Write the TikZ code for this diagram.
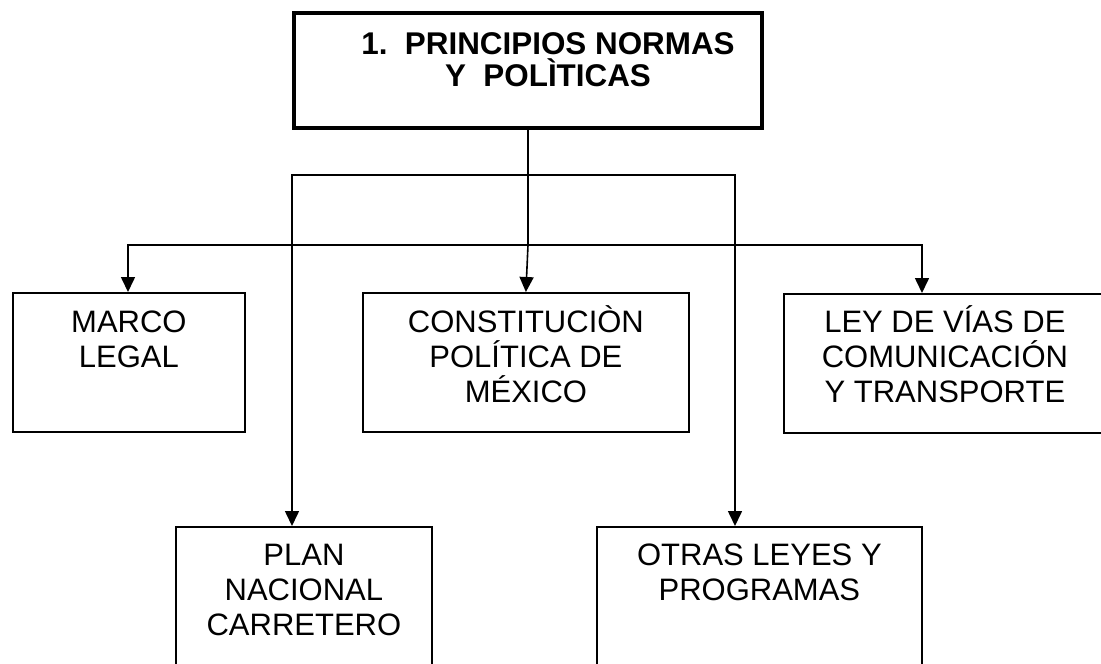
\documentclass[tikz,border=0pt]{standalone}
\usepackage{fontspec}
\setmainfont{Liberation Sans}
\usetikzlibrary{arrows.meta}

\newcommand{\tope}{\rule{0pt}{28pt}}

\tikzset{
  caja/.style={draw,rectangle,line width=1.8pt,anchor=north west,inner sep=0pt},
  texto/.style={font=\fontsize{31}{35}\selectfont,align=center,anchor=north,inner sep=0pt},
  titulo/.style={font=\bfseries\fontsize{31.4}{32}\selectfont,align=center,anchor=north,inner sep=0pt},
  linea/.style={line width=1.6pt},
  flecha/.style={line width=1.6pt,-{Triangle[width=14pt,length=15pt]}}
}

\begin{document}
\begin{tikzpicture}[x=1pt,y=-1pt]
  \useasboundingbox (0,0) rectangle (1101,664);
  \clip (0,0) rectangle (1101,664);

  % cajas
  \node[caja,line width=4pt,minimum width=468pt,minimum height=115pt](principios) at (292,11){};
  \node[caja,minimum width=232pt,minimum height=139pt](marco) at (12,292){};
  \node[caja,minimum width=326pt,minimum height=139pt](constitucion) at (362,292){};
  \node[caja,minimum width=322pt,minimum height=139pt](ley) at (783,293){};
  \node[caja,minimum width=256pt,minimum height=200pt](plan) at (175,526){};
  \node[caja,minimum width=325pt,minimum height=200pt](otras) at (596,526){};

  % textos
  \node[titulo](tprincipios) at (548,26.4){\tope 1.\ \ PRINCIPIOS NORMAS\\Y\ \ POLÌTICAS};
  \node[texto](tmarco) at ([yshift=-12.2pt]marco.north){\tope MARCO\\LEGAL};
  \node[texto](tconstitucion) at ([yshift=-12.2pt]constitucion.north){\tope CONSTITUCIÒN\\POLÍTICA DE\\MÉXICO};
  \node[texto](tley) at ([yshift=-11.2pt]ley.north){\tope LEY DE VÍAS DE\\COMUNICACIÓN\\Y TRANSPORTE};
  \node[texto](tplan) at ([yshift=-11.2pt]plan.north){\tope PLAN\\NACIONAL\\CARRETERO};
  \node[texto](totras) at ([yshift=-11.2pt]otras.north){\tope OTRAS LEYES Y\\PROGRAMAS};

  % conectores
  \coordinate (nudo1) at (principios.south |- 0,245);
  \coordinate (nudo2) at (principios.south |- 0,175);
  \coordinate (izq1) at (128,245);
  \coordinate (der1) at (922,245);
  \coordinate (izq2) at (292,175);
  \coordinate (der2) at (735,175);

  \draw[linea] (principios.south) -- (nudo1);
  \draw[flecha] (nudo1) -- (izq1) -- (marco.north -| izq1);
  \draw[flecha] (nudo1) -- (constitucion.north);
  \draw[flecha] (nudo1) -- (der1) -- (ley.north -| der1);
  \draw[flecha] (nudo2) -- (izq2) -- (plan.north -| izq2);
  \draw[flecha] (nudo2) -- (der2) -- (otras.north -| der2);
\end{tikzpicture}
\end{document}
